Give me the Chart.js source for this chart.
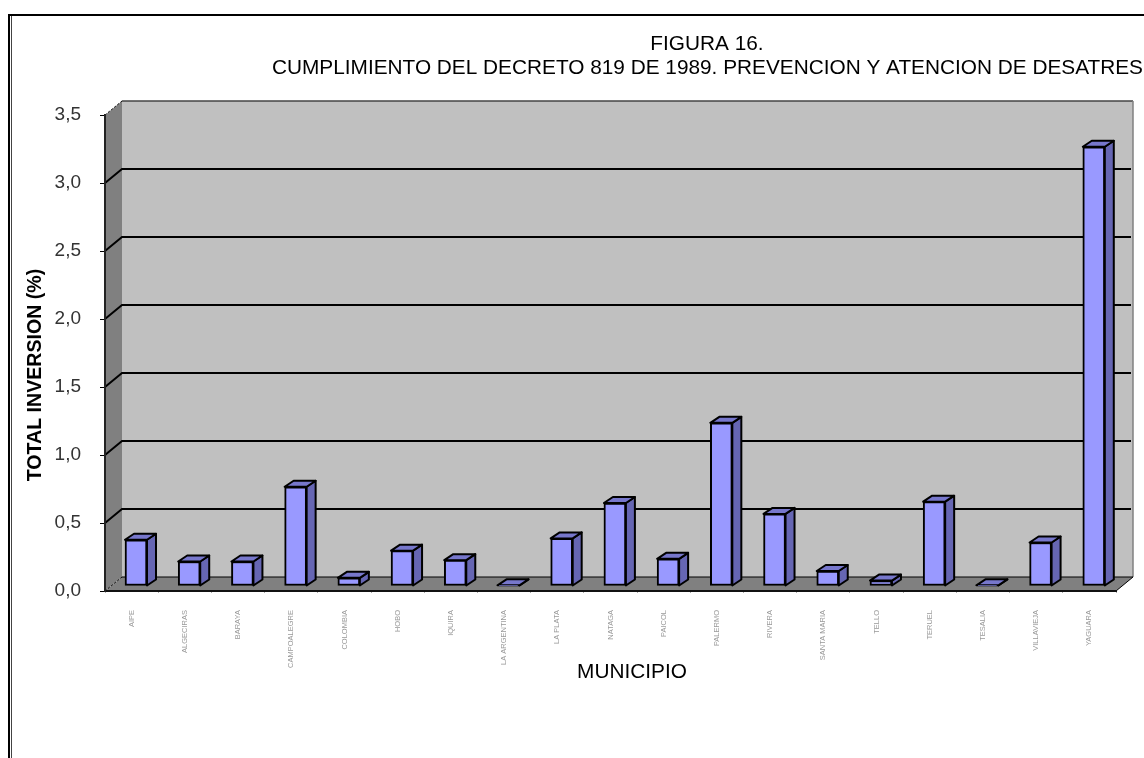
<!DOCTYPE html>
<html>
<head>
<meta charset="utf-8">
<title>Figura 16</title>
<script src="https://cdn.jsdelivr.net/npm/chart.js@4"></script>
<style>
    html, body { margin: 0; padding: 0; background: #fff; overflow: hidden; }
    #wrap { width: 1144px; height: 758px; }
</style>
</head>
<body>
<div id="wrap"><canvas id="grafica" width="1144" height="758"></canvas></div>
<script>
const municipios = ["AIPE", "ALGECIRAS", "BARAYA", "CAMPOALEGRE", "COLOMBIA", "HOBO", "IQUIRA", "LA ARGENTINA", "LA PLATA", "NATAGA", "PAICOL", "PALERMO", "RIVERA", "SANTA MARIA", "TELLO", "TERUEL", "TESALIA", "VILLAVIEJA", "YAGUARA"];
const inversion = [0.34, 0.18, 0.18, 0.73, 0.06, 0.26, 0.19, 0.005, 0.35, 0.61, 0.20, 1.20, 0.53, 0.11, 0.04, 0.62, 0.005, 0.32, 3.23];
const etiquetasY = ["0,0", "0,5", "1,0", "1,5", "2,0", "2,5", "3,0", "3,5"];
const tituloLinea1 = "FIGURA 16.";
const tituloLinea2 = "CUMPLIMIENTO DEL DECRETO 819 DE 1989. PREVENCION Y ATENCION DE DESATRES";
const tituloY = "TOTAL INVERSION (%)";
const tituloX = "MUNICIPIO";

// profundidad de las paredes y de las barras
const fondo = { dx: 17, dy: -14 };
const barra = { dx: 9, dy: -6, shiftX: 4.4, shiftY: -5 };

function poly(ctx, pts, fill, stroke, lw) {
    ctx.beginPath();
    pts.forEach((p, i) => (i ? ctx.lineTo(p[0], p[1]) : ctx.moveTo(p[0], p[1])));
    ctx.closePath();
    ctx.fillStyle = fill;
    ctx.fill();
    if (stroke) {
        ctx.strokeStyle = stroke;
        ctx.lineWidth = lw;
        ctx.lineJoin = "round";
        ctx.stroke();
    }
}

const paredes = {
    id: "paredes",
    beforeDraw(chart) {
        const { ctx, chartArea: a, scales } = chart;
        const dx = fondo.dx, dy = fondo.dy;
        ctx.save();
        // marco de la pagina
        ctx.fillStyle = "#000";
        ctx.fillRect(8, 14, 1136, 2);
        ctx.fillRect(8, 14, 2, 744);
        ctx.fillStyle = "#444";
        ctx.fillRect(11, 16, 1, 742);

        poly(ctx, [[a.left + dx, a.top + dy], [a.right + dx, a.top + dy], [a.right + dx, a.bottom + dy], [a.left + dx, a.bottom + dy]], "#c0c0c0");
        poly(ctx, [[a.left, a.top], [a.left + dx, a.top + dy], [a.left + dx, a.bottom + dy], [a.left, a.bottom]], "#808080");
        poly(ctx, [[a.left, a.bottom], [a.left + dx, a.bottom + dy], [a.right + dx, a.bottom + dy], [a.right, a.bottom]], "#808080");

        // borde superior y derecho de la pared
        ctx.strokeStyle = "#444";
        ctx.lineWidth = 1.5;
        ctx.beginPath();
        ctx.moveTo(a.left + dx, a.top + dy);
        ctx.lineTo(a.right + dx, a.top + dy);
        ctx.stroke();
        ctx.strokeStyle = "#808080";
        ctx.beginPath();
        ctx.moveTo(a.right + dx, a.top + dy);
        ctx.lineTo(a.right + dx, a.bottom + dy);
        ctx.stroke();

        // lineas de division sobre la pared y el lateral
        ctx.strokeStyle = "#000";
        ctx.lineWidth = 2;
        scales.y.ticks.forEach((t) => {
            const y = scales.y.getPixelForValue(t.value);
            if (t.value === 0 || t.value === 3.5) return;
            ctx.beginPath();
            ctx.moveTo(a.left, y);
            ctx.lineTo(a.left + dx, y + dy);
            ctx.lineTo(a.right + dx - 2, y + dy);
            ctx.stroke();
        });
        // diagonales punteadas de las esquinas
        ctx.lineWidth = 1;
        ctx.setLineDash([2, 2]);
        ctx.beginPath();
        ctx.moveTo(a.left, a.top);
        ctx.lineTo(a.left + dx, a.top + dy);
        ctx.moveTo(a.left, a.bottom);
        ctx.lineTo(a.left + dx, a.bottom + dy);
        ctx.stroke();
        ctx.setLineDash([]);
        ctx.beginPath();
        ctx.moveTo(a.left + dx, a.bottom + dy);
        ctx.lineTo(a.right + dx, a.bottom + dy);
        ctx.moveTo(a.right + dx, a.bottom + dy);
        ctx.lineTo(a.right, a.bottom);
        ctx.stroke();
        ctx.restore();
    },
    beforeDatasetDraw(chart, args) {
        // la cara frontal la dibuja Chart.js, aqui van los lados
        const ctx = chart.ctx;
        ctx.save();
        ctx.translate(barra.shiftX, barra.shiftY);
        args.meta.data.forEach((el) => {
            const p = el.getProps(["x", "y", "base", "width"], true);
            const l = p.x - p.width / 2, r = p.x + p.width / 2;
            poly(ctx, [[r, p.y], [r + barra.dx, p.y + barra.dy], [r + barra.dx, p.base + barra.dy], [r, p.base]], "#6666b3", "#000", 2);
            poly(ctx, [[l, p.y], [l + barra.dx, p.y + barra.dy], [r + barra.dx, p.y + barra.dy], [r, p.y]], "#7777cc", "#000", 2);
        });
    },
    afterDatasetDraw(chart) {
        chart.ctx.restore();
    },
    afterDraw(chart) {
        const ctx = chart.ctx;
        ctx.save();
        ctx.fillStyle = "#000";
        ctx.textBaseline = "middle";
        ctx.textAlign = "center";
        ctx.font = "20.8px 'Liberation Sans'";
        ctx.fillText(tituloLinea1, 707, 44);
        ctx.textAlign = "left";
        ctx.fillText(tituloLinea2, 272, 68);
        ctx.textAlign = "center";
        ctx.fillText(tituloX, 632, 672);
        ctx.translate(36, 375);
        ctx.rotate(-Math.PI / 2);
        ctx.font = "bold 19.6px 'Liberation Sans'";
        ctx.fillText(tituloY, 0, 0);
        ctx.restore();
    },
};

const ctx = document.getElementById("grafica");
new Chart(ctx, {
    type: "bar",
    data: {
        labels: municipios,
        datasets: [
            {
                label: "Total inversion",
                data: inversion,
                backgroundColor: "#9999ff",
                borderColor: "#000",
                borderWidth: 2,
                borderSkipped: false,
                barThickness: 22,
                clip: false,
            },
        ],
    },
    plugins: [paredes],
    options: {
        responsive: false,
        animation: false,
        layout: { padding: { top: 115, right: 28, left: 0, bottom: 0 } },
        plugins: {
            legend: { display: false },
            tooltip: { enabled: false },
        },
        scales: {
            x: {
                afterFit(s) { s.height = 167; },
                grid: { offset: true, drawOnChartArea: false, color: "#aaa", tickLength: 2 },
                border: { color: "#111", width: 2 },
                ticks: {
                    autoSkip: false,
                    minRotation: 90,
                    maxRotation: 90,
                    padding: 17,
                    color: "#999",
                    font: { family: "'Liberation Sans'", size: 7.5 },
                },
            },
            y: {
                min: 0,
                max: 3.5,
                afterFit(s) { s.width = 105; },
                grid: { drawOnChartArea: false, color: "#000", tickLength: 5 },
                border: { color: "#222", width: 2 },
                ticks: {
                    stepSize: 0.5,
                    padding: 19,
                    color: "#333",
                    font: { family: "'Liberation Sans'", size: 19 },
                    callback: (v, i) => etiquetasY[i],
                },
            },
        },
    },
});
</script>
</body>
</html>
